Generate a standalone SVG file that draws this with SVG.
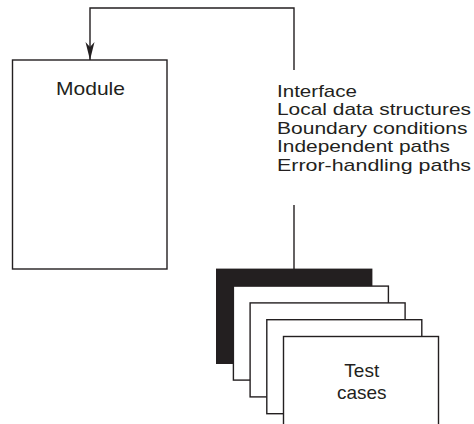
<svg xmlns="http://www.w3.org/2000/svg" width="474" height="424" viewBox="0 0 474 424">
<style>
  .box { fill: #ffffff; stroke: #231f20; stroke-width: 1.4; }
  .dark { fill: #231f20; stroke: #231f20; stroke-width: 1.4; }
  .conn { fill: none; stroke: #231f20; stroke-width: 1.4; }
  .lbl { font-family: "Liberation Sans", Arial, sans-serif; fill: #231f20; }
  .item { font-size: 17px; }
</style>
<defs>
  <marker id="arrow" markerUnits="userSpaceOnUse" viewBox="-18 -5 19 10" refX="0" refY="0" markerWidth="19" markerHeight="10" orient="auto">
    <path d="M0,0 L-18,-4.5 L-13,0 L-18,4.5 Z" fill="#231f20"/>
  </marker>
</defs>
<rect width="474" height="424" fill="#ffffff"/>

<g id="module">
  <rect class="box" x="12.5" y="60" width="154.5" height="209"/>
  <text class="lbl" x="90.5" y="95" font-size="18.5" text-anchor="middle" textLength="69" lengthAdjust="spacingAndGlyphs">Module</text>
</g>

<g id="aspects">
  <text class="lbl item" x="277" y="96.5" textLength="80" lengthAdjust="spacingAndGlyphs">Interface</text>
  <text class="lbl item" x="277" y="115.2" textLength="194" lengthAdjust="spacingAndGlyphs">Local data structures</text>
  <text class="lbl item" x="277" y="133.8" textLength="190.5" lengthAdjust="spacingAndGlyphs">Boundary conditions</text>
  <text class="lbl item" x="277" y="152.4" textLength="173" lengthAdjust="spacingAndGlyphs">Independent paths</text>
  <text class="lbl item" x="277" y="171" textLength="194" lengthAdjust="spacingAndGlyphs">Error-handling paths</text>
</g>

<g id="test-cases">
  <rect class="dark" x="216.7" y="269.3" width="155" height="94"/>
  <rect class="box" x="233.4" y="286.1" width="155" height="94"/>
  <rect class="box" x="250.1" y="302.9" width="155" height="94"/>
  <rect class="box" x="266.8" y="319.7" width="155" height="94"/>
  <rect class="box" x="283.5" y="336.5" width="155" height="94"/>
  <text class="lbl" x="361.8" y="376.7" font-size="19" text-anchor="middle">Test</text>
  <text class="lbl" x="361.8" y="399.3" font-size="19" text-anchor="middle">cases</text>
</g>

<g id="connectors">
  <path class="conn" d="M294,70 V8 H90 V60" marker-end="url(#arrow)"/>
  <path class="conn" d="M294,205 V269.3"/>
</g>
</svg>
